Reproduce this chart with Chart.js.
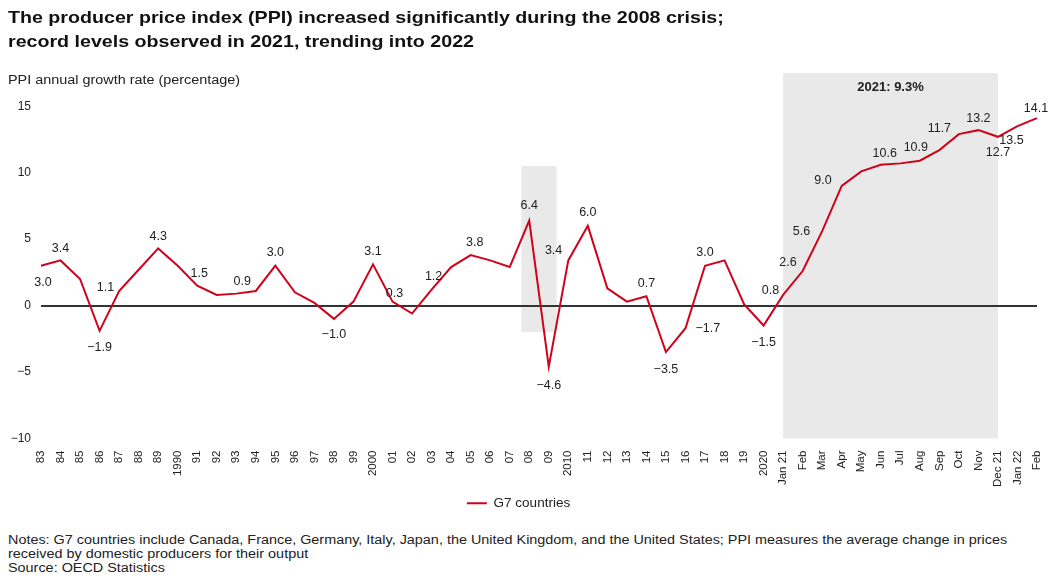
<!DOCTYPE html>
<html>
<head>
<meta charset="utf-8">
<script src="https://cdn.jsdelivr.net/npm/chart.js@4.4.0/dist/chart.umd.min.js"></script>
<style>
  body { margin: 0; background: #fff; font-family: 'Liberation Sans', Arial, sans-serif; color: #222; }
  #wrap { position: relative; width: 1048px; height: 588px; overflow: hidden; }
  #chartBox { position: absolute; left: 0; top: 0; width: 1048px; height: 520px; }
  .title { position: absolute; left: 8px; top: 6px; font-weight: bold; font-size: 17px; line-height: 24px; color: #111;
           white-space: nowrap; transform: scaleX(1.155); transform-origin: left top; }
  .ylab { position: absolute; left: 8px; top: 73px; font-size: 12px; color: #222; white-space: nowrap;
          transform: scaleX(1.2); transform-origin: left top; }
  .notes { position: absolute; left: 8px; top: 533px; font-size: 12px; line-height: 14px; color: #222; white-space: nowrap;
           transform: scaleX(1.2); transform-origin: left top; }
</style>
</head>
<body>
<div id="wrap">
  <div id="chartBox"><canvas id="ppiChart"></canvas></div>
  <div class="title">The producer price index (PPI) increased significantly during the 2008 crisis;<br>record levels observed in 2021, trending into 2022</div>
  <div class="ylab">PPI annual growth rate (percentage)</div>
  <div class="notes">Notes: G7 countries include Canada, France, Germany, Italy, Japan, the United Kingdom, and the United States; PPI measures the average change in prices<br>received by domestic producers for their output<br>Source: OECD Statistics</div>
</div>
<script>
'use strict'

const categories = ['83', '84', '85', '86', '87', '88', '89', '1990', '91', '92', '93', '94', '95', '96', '97', '98', '99',
  '2000', '01', '02', '03', '04', '05', '06', '07', '08', '09', '2010', '11', '12', '13', '14', '15', '16', '17', '18', '19',
  '2020', 'Jan 21', 'Feb', 'Mar', 'Apr', 'May', 'Jun', 'Jul', 'Aug', 'Sep', 'Oct', 'Nov', 'Dec 21', 'Jan 22', 'Feb'];

const g7Values = [3.0, 3.4, 2.0, -1.9, 1.1, 2.7, 4.3, 3.0, 1.5, 0.8, 0.9, 1.1, 3.0, 1.0, 0.2, -1.0, 0.3,
  3.1, 0.3, -0.6, 1.2, 2.9, 3.8, 3.4, 2.9, 6.4, -4.6, 3.4, 6.0, 1.3, 0.3, 0.7, -3.5, -1.7, 3.0, 3.4, 0.1,
  -1.5, 0.8, 2.6, 5.6, 9.0, 10.1, 10.6, 10.7, 10.9, 11.7, 12.9, 13.2, 12.7, 13.5, 14.1];

const yTicks = [-10, -5, 0, 5, 10, 15];

const crisisBand = { from: 'Jan 21', to: 'Dec 21', label: '2021: 9.3%' };
const crisis2008 = { from: 24.6, to: 26.4, yTop: 10.5, yBottom: -2 };

// which points get a value label and where it sits: [dx, dy, align]
const labelPlacement = {
  0: [2, 17, 'center'], 1: [0, -12, 'center'], 3: [0, 17, 'center'], 4: [-5, -3, 'right'],
  6: [0, -12, 'center'], 8: [2, -12, 'center'], 10: [6, -12, 'center'], 12: [0, -13, 'center'],
  15: [0, 16, 'center'], 17: [0, -13, 'center'], 18: [2, -8, 'center'], 20: [2, -13, 'center'],
  22: [4, -13, 'center'], 25: [0, -15, 'center'], 26: [0, 19, 'center'], 27: [-6, -10, 'right'],
  28: [0, -13, 'center'], 31: [0, -13, 'center'], 32: [0, 17, 'center'], 33: [10, 0, 'left'],
  34: [0, -13, 'center'], 37: [0, 17, 'center'], 38: [-4, -4, 'right'], 39: [-6, -8, 'right'],
  40: [-12, 0, 'right'], 41: [-10, -5, 'right'], 43: [4, -11, 'center'], 45: [-4, -13, 'center'],
  46: [0, -22, 'center'], 48: [0, -12, 'center'], 49: [0, 16, 'center'], 50: [-6, 14, 'center'],
  51: [-1, -10, 'center']
};

function fmt(v) {
  const s = Math.abs(v).toFixed(1);
  return v < 0 ? '\u2212' + s : s;
}

const shadePlugin = {
  id: 'shade',
  beforeDraw(chart) {
    const {ctx, scales: {x, y}, chartArea} = chart;
    ctx.save();
    ctx.fillStyle = '#e9e9e9';
    const x1 = x.getPixelForValue(categories.indexOf(crisisBand.from));
    const x2 = x.getPixelForValue(categories.lastIndexOf(crisisBand.to));
    ctx.fillRect(x1, chartArea.top, x2 - x1, chartArea.bottom - chartArea.top);
    const bx1 = x.getPixelForValue(crisis2008.from);
    const bx2 = x.getPixelForValue(crisis2008.to);
    const by1 = y.getPixelForValue(crisis2008.yTop);
    const by2 = y.getPixelForValue(crisis2008.yBottom);
    ctx.fillRect(bx1, by1, bx2 - bx1, by2 - by1);
    ctx.fillStyle = '#222';
    ctx.font = "bold 13px 'Liberation Sans', Arial, sans-serif";
    ctx.textAlign = 'center';
    ctx.textBaseline = 'middle';
    ctx.fillText(crisisBand.label, (x1 + x2) / 2, chartArea.top + 14);
    ctx.restore();
  },
  afterDatasetsDraw(chart) {
    const {ctx} = chart;
    const meta = chart.getDatasetMeta(0);
    ctx.save();
    ctx.fillStyle = '#222';
    ctx.font = "12.5px 'Liberation Sans', Arial, sans-serif";
    ctx.textBaseline = 'middle';
    Object.keys(labelPlacement).forEach(k => {
      const i = Number(k);
      const p = meta.data[i];
      const [dx, dy, align] = labelPlacement[k];
      ctx.textAlign = align;
      ctx.fillText(fmt(g7Values[i]), p.x + dx, p.y + dy);
    });
    ctx.restore();
  }
};

const ctx = document.getElementById('ppiChart').getContext('2d');
const ppiChart = new Chart(ctx, {
  type: 'line',
  data: {
    labels: categories,
    datasets: [{
      label: 'G7 countries',
      data: g7Values,
      borderColor: '#d0021b',
      backgroundColor: '#d0021b',
      borderWidth: 2,
      pointRadius: 0,
      tension: 0,
      pointStyle: 'line'
    }]
  },
  options: {
    responsive: true,
    maintainAspectRatio: false,
    animation: false,
    layout: { padding: { top: 73, right: 11, left: 0, bottom: 0 } },
    scales: {
      x: {
        grid: { display: false },
        border: { display: false },
        ticks: {
          autoSkip: false,
          maxRotation: 90,
          minRotation: 90,
          padding: 4,
          color: '#222',
          font: { family: "'Liberation Sans', Arial, sans-serif", size: 11.5 }
        },
        afterFit(scale) {
          scale.height = 52;
          scale.paddingLeft = 0;
          scale.paddingRight = 0;
        }
      },
      y: {
        min: -10,
        max: 17.5,
        afterBuildTicks(scale) { scale.ticks = yTicks.map(v => ({ value: v })); },
        grid: {
          drawTicks: false,
          color: c => (c.tick && c.tick.value === 0 ? '#333' : 'rgba(0,0,0,0)'),
          lineWidth: 2
        },
        border: { display: false },
        ticks: {
          padding: 10,
          color: '#222',
          font: { family: "'Liberation Sans', Arial, sans-serif", size: 12 },
          callback: v => (v < 0 ? '\u2212' + Math.abs(v) : String(v))
        },
        afterFit(scale) { scale.width = 41; }
      }
    },
    plugins: {
      legend: {
        display: true,
        position: 'bottom',
        labels: {
          usePointStyle: true,
          pointStyleWidth: 20,
          boxHeight: 11,
          padding: 6,
          color: '#222',
          font: { family: "'Liberation Sans', Arial, sans-serif", size: 13.5 }
        }
      },
      tooltip: { enabled: false }
    }
  },
  plugins: [shadePlugin]
});
</script>
</body>
</html>
